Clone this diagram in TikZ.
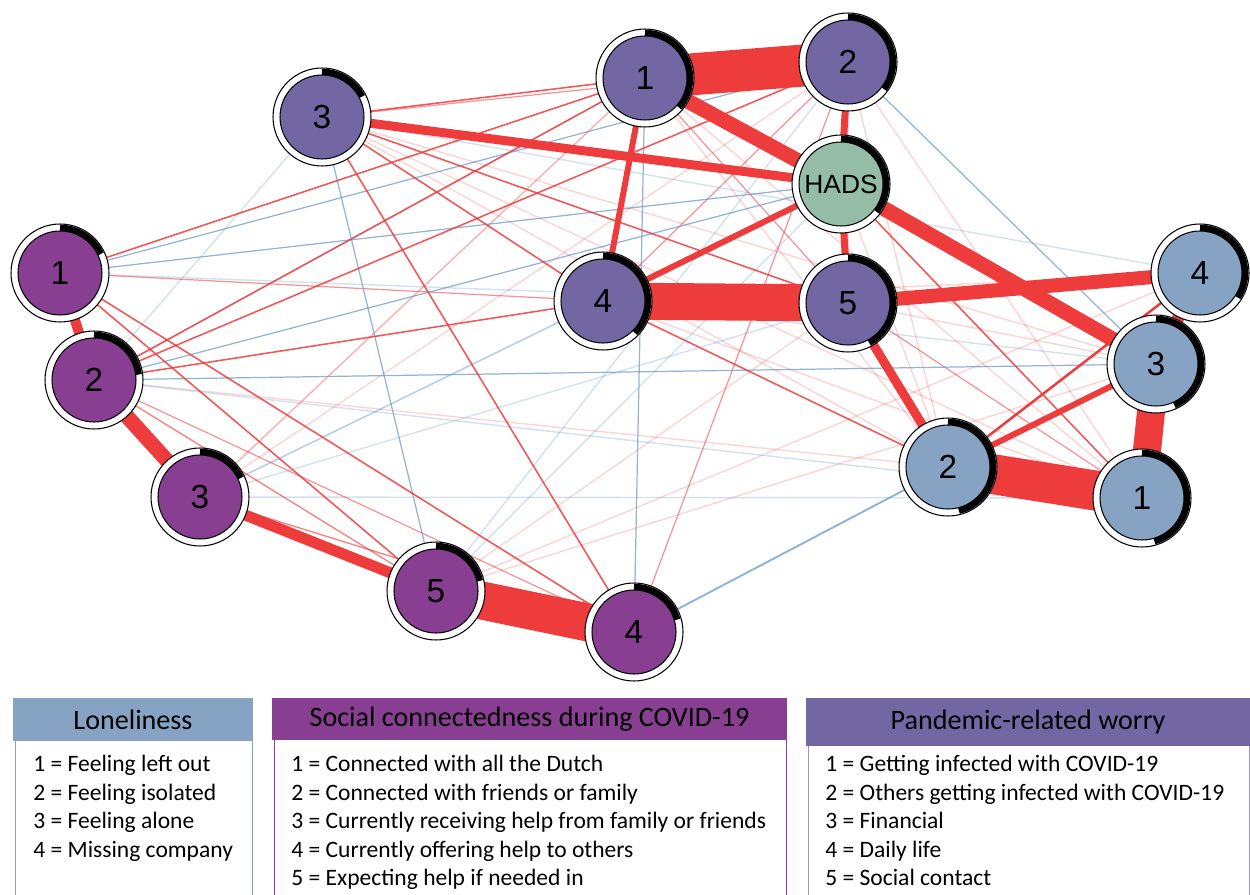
\documentclass[tikz,border=0pt]{standalone}
\usepackage{fontspec}
\setmainfont{Carlito}
\newfontfamily\arialfont{Liberation Sans}
\usetikzlibrary{backgrounds}

\definecolor{redE}{HTML}{EE3B3B}
\definecolor{blueE}{HTML}{6A9BCB}
\definecolor{worry}{HTML}{7267A3}
\definecolor{social}{HTML}{883E91}
\definecolor{lonely}{HTML}{86A3C4}
\definecolor{hadsc}{HTML}{94BCA6}

\tikzset{
    ring/.style 2 args={circle, draw, line width=0.6pt, fill=white, minimum size=1.96cm, inner sep=0pt,
        font=\arialfont\fontsize{19}{19}\selectfont,
        path picture={
            \draw[line width=0.13cm] ([shift={(90:0.9cm)}]path picture bounding box.center) arc[start angle=90, end angle=#2, radius=0.9cm];
            \filldraw[fill=#1, draw=black, line width=0.6pt] (path picture bounding box.center) circle[radius=0.84cm];
        }},
    ew/.style={draw=redE, line width=#1*0.569pt},
    r1/.style={draw=redE, opacity=0.85, line width=0.9pt},
    r2/.style={draw=redE, opacity=0.55, line width=0.7pt},
    r3/.style={draw=redE, opacity=0.22, line width=0.8pt},
    b1/.style={draw=blueE, opacity=0.75, line width=0.7pt},
    b2/.style={draw=blueE, opacity=0.3, line width=0.8pt},
    hdr/.style={rectangle, inner sep=0pt, font=\fontsize{16}{18}\selectfont},
    items/.style={anchor=north west, align=left, inner sep=0pt, font=\fontsize{13.4}{16.2}\selectfont},
}

\begin{document}
\begin{tikzpicture}[x=0.02cm, y=-0.02cm]
    \useasboundingbox (0,0) rectangle (1250,895);

    % Pandemic-related worry
    \node[ring={worry}{-41}] (w1) at (645,78) {1};
    \node[ring={worry}{-37}] (w2) at (848,62) {2};
    \node[ring={worry}{27}] (w3) at (322,117) {3};
    \node[ring={worry}{-45}] (w4) at (603,301) {4};
    \node[ring={worry}{-62}] (w5) at (848,303) {5};
    \node[ring={hadsc}{-38}, font=\arialfont\fontsize{15}{15}\selectfont] (hads) at (841,184) {HADS};

    % Social connectedness
    \node[ring={social}{25}] (s1) at (60,273) {1};
    \node[ring={social}{7}] (s2) at (94,380) {2};
    \node[ring={social}{25}] (s3) at (200,497) {3};
    \node[ring={social}{16}] (s4) at (634,632) {4};
    \node[ring={social}{13}] (s5) at (436,591) {5};

    % Loneliness
    \node[ring={lonely}{-33}] (l4) at (1200,273) {4};
    \node[ring={lonely}{-66}] (l3) at (1156,364) {3};
    \node[ring={lonely}{-76}] (l2) at (948,467) {2};
    \node[ring={lonely}{-74}] (l1) at (1142,498) {1};

    % Edges
    \begin{pgfonlayer}{background}
        \foreach \a/\b in {w3/l1, w3/l2, w3/l3, s2/l2, s2/s5, s3/w1, s5/l3, s5/w5, s5/l4, s4/s3,
                           w1/l1, w1/l2, w1/l3, w2/w5, w2/l2, w2/l1, w4/l1, w5/l3, hads/l2, w1/s3, w4/l4, w2/s3}
            \draw[r3] (\a.center) -- (\b.center);
        \foreach \a/\b in {w3/s2, w3/l4, s1/w5, s2/l1, s3/l1, s3/w4, s3/hads, s5/hads, s5/w2, w4/l3, w1/s2, w5/s3}
            \draw[b2] (\a.center) -- (\b.center);
        \foreach \a/\b in {w3/w2, s1/w4, s3/s4, s4/w2, s4/s2, w1/w5, w2/w4, w5/l1, s5/s2}
            \draw[r2] (\a.center) -- (\b.center);
        \foreach \a/\b in {w3/s5, s1/w2, s1/hads, s2/hads, s2/l3, w1/s4, w2/l3}
            \draw[b1] (\a.center) -- (\b.center);
        \draw[b1, line width=1.1pt] (s4.center) -- (l2.center);
        \foreach \a/\b in {w3/w1, w3/w4, w3/w5, w3/s4, s1/w1, s1/s5, s1/s4, s2/w1, s2/w2, s2/w4, w4/l2, hads/l1}
            \draw[r1] (\a.center) -- (\b.center);

        \draw[ew=2.5] (l2.center) -- (l4.center);
        \draw[ew=6] (l2.center) -- (l3.center);
        \draw[ew=6] (w1.center) -- (w4.center);
        \draw[ew=6] (w4.center) -- (hads.center);
        \draw[ew=7] (w2.center) -- (hads.center);
        \draw[ew=7] (hads.center) -- (w5.center);
        \draw[ew=9] (w3.center) -- (hads.center);
        \draw[ew=9] (w5.center) -- (l2.center);
        \draw[ew=12] (l3.center) -- (l4.center);
        \draw[ew=10] (s1.center) -- (s2.center);
        \draw[ew=11] (s3.center) -- (s5.center);
        \draw[ew=15] (s2.center) -- (s3.center);
        \draw[ew=14] (w5.center) -- (l4.center);
        \draw[ew=15] (hads.center) -- (l3.center);
        \draw[ew=15] (w1.center) -- (hads.center);
        \draw[ew=28] (l1.center) -- (l3.center);
        \draw[ew=38] (s5.center) -- (s4.center);
        \draw[ew=37] (w4.center) -- (w5.center);
        \draw[ew=40] (l2.center) -- (l1.center);
        \draw[ew=42] (w1.center) -- (w2.center);
    \end{pgfonlayer}

    % Legend
    \node[hdr, fill=lonely, minimum width=4.8cm, minimum height=0.86cm] (hl) at (133,719.5) {Loneliness};
    \node[hdr, fill=social, minimum width=10.3cm, minimum height=0.84cm] (hs) at (529.5,719) {Social connectedness during COVID-19};
    \node[hdr, fill=worry, minimum width=8.88cm, minimum height=0.96cm] (hw) at (1028,722) {Pandemic-related worry};
    \draw[lonely] (15,895) -- (15,741) (252,741) -- (252,895);
    \draw[social] (274,895) -- (274,740) (786,740) -- (786,895);
    \draw[worry!70] (808,895) -- (808,746) (1249,746) -- (1249,895);
    \node[items] (il) at (33,755) {1 = Feeling left out\\2 = Feeling isolated\\3 = Feeling alone\\4 = Missing company};
    \node[items] (is) at (291,755) {1 = Connected with all the Dutch\\2 = Connected with friends or family\\3 = Currently receiving help from family or friends\\4 = Currently offering help to others\\5 = Expecting help if needed in};
    \node[items] (iw) at (825,755) {1 = Getting infected with COVID-19\\2 = Others getting infected with COVID-19\\3 = Financial\\4 = Daily life\\5 = Social contact};
\end{tikzpicture}
\end{document}
